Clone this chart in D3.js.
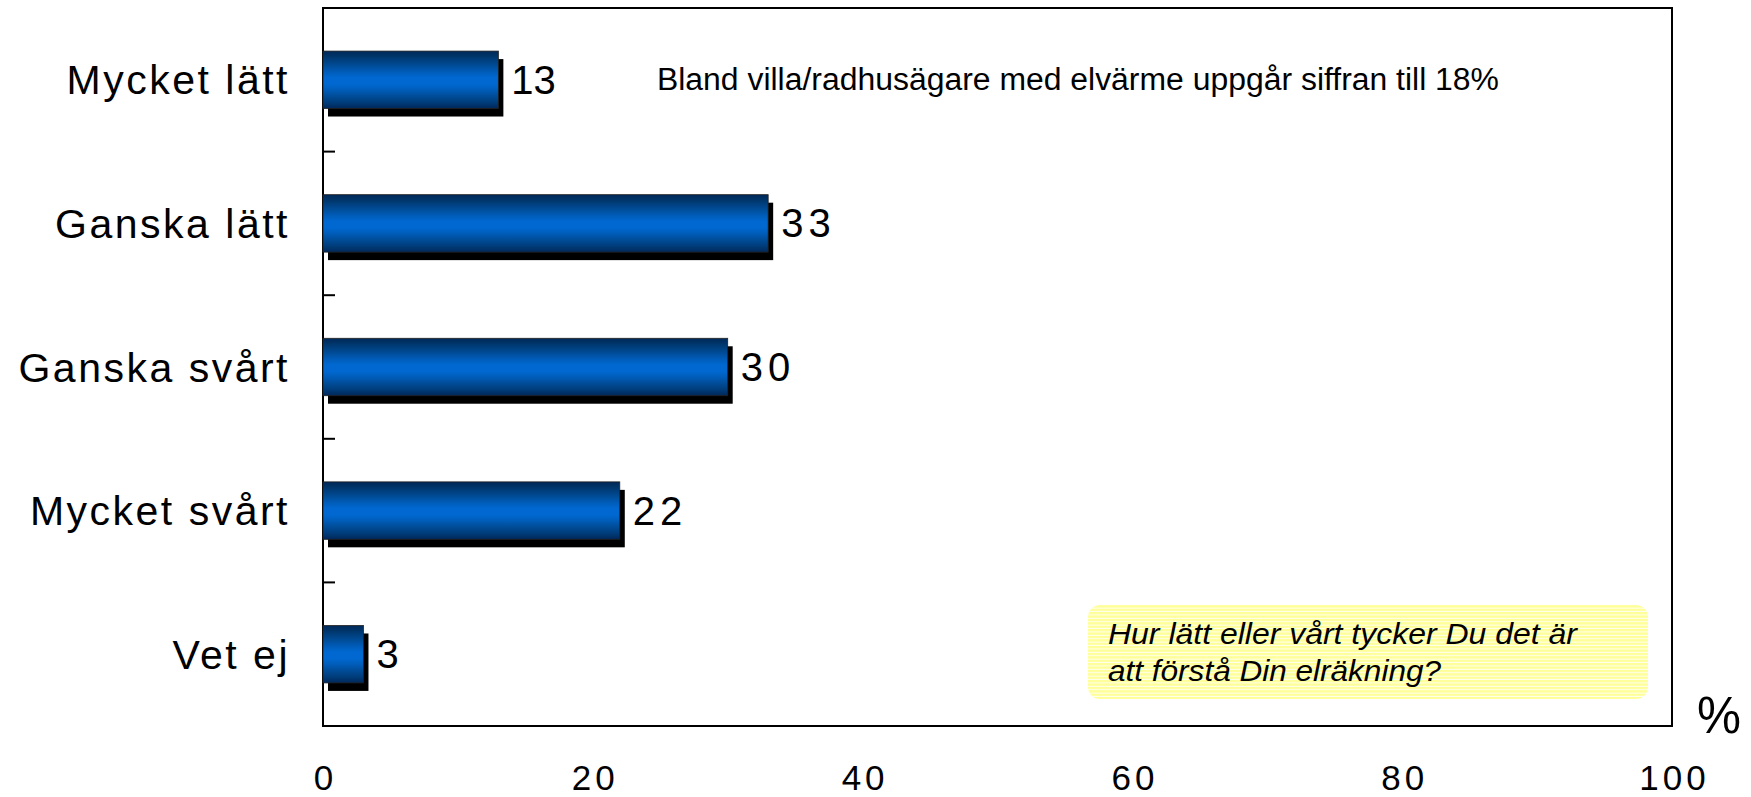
<!DOCTYPE html>
<html>
<head>
<meta charset="utf-8">
<script src="https://cdn.jsdelivr.net/npm/d3@7"></script>
<style>
  html, body { margin: 0; padding: 0; background: #fff; }
  svg { display: block; font-family: "Liberation Sans", Arial, sans-serif; }
</style>
</head>
<body>
<svg id="chart" width="1751" height="797"></svg>
<script>
const categories = ["Mycket lätt", "Ganska lätt", "Ganska svårt", "Mycket svårt", "Vet ej"];
const values = [13, 33, 30, 22, 3];
const xTicks = [0, 20, 40, 60, 80, 100];
const noteText = "Bland villa/radhusägare med elvärme uppgår siffran till 18%";
const questionLines = ["Hur lätt eller vårt tycker Du det är", "att förstå Din elräkning?"];
const unitLabel = "%";

const W = 1751, H = 797;
const plot = { left: 323, top: 8, right: 1672, bottom: 726 };

const svg = d3.select("#chart");
const defs = svg.append("defs");

// bar gradient (stepped navy -> bright blue -> navy)
const grad = defs.append("linearGradient")
  .attr("id", "barGrad").attr("x1", 0).attr("y1", 0).attr("x2", 0).attr("y2", 1);
[
  [0, "#00285a"], [0.08, "#003366"], [0.16, "#003f7e"], [0.26, "#004d99"],
  [0.36, "#005cb8"], [0.46, "#0068d0"], [0.58, "#0068d0"], [0.68, "#005cb8"],
  [0.78, "#004d99"], [0.88, "#003f7e"], [1, "#00285a"]
].forEach(([o, c]) => grad.append("stop").attr("offset", o).attr("stop-color", c));

// yellow striped pattern
const pat = defs.append("pattern")
  .attr("id", "stripes").attr("patternUnits", "userSpaceOnUse")
  .attr("width", 8).attr("height", 3.4);
pat.append("rect").attr("width", 8).attr("height", 3.4).attr("fill", "#ffff99");
pat.append("rect").attr("y", 2.4).attr("width", 8).attr("height", 1).attr("fill", "#ffffff").attr("opacity", 0.85);

const x = d3.scaleLinear().domain([0, 100]).range([plot.left, plot.right]);
const y = d3.scaleBand().domain(categories).range([plot.top, plot.bottom])
  .paddingInner(0.6).paddingOuter(0.3);
const step = y.step();

// frame
svg.append("rect")
  .attr("x", plot.left).attr("y", plot.top)
  .attr("width", plot.right - plot.left).attr("height", plot.bottom - plot.top)
  .attr("fill", "none").attr("stroke", "#000").attr("stroke-width", 2);

// y ticks at band boundaries (inside)
const tickYs = d3.range(categories.length + 1).map(i => plot.top + i * step);
svg.append("g").selectAll("line").data(tickYs).join("line")
  .attr("x1", plot.left).attr("x2", plot.left + 12)
  .attr("y1", d => d).attr("y2", d => d)
  .attr("stroke", "#000").attr("stroke-width", 2);

// question box
const qb = svg.append("g");
qb.append("rect")
  .attr("x", 1088).attr("y", 605).attr("width", 560).attr("height", 94)
  .attr("rx", 12).attr("ry", 12)
  .attr("fill", "url(#stripes)");
qb.selectAll("text").data(questionLines).join("text")
  .attr("x", 1108)
  .attr("y", (d, i) => 644 + i * 37)
  .attr("font-size", 30).attr("font-style", "italic").attr("fill", "#000")
  .attr("textLength", (d, i) => i === 0 ? 469 : 333)
  .attr("lengthAdjust", "spacingAndGlyphs")
  .text(d => d);

// shadows
const bars = svg.append("g");
bars.selectAll("rect.shadow").data(values).join("rect")
  .attr("class", "shadow")
  .attr("x", x(0) + 5)
  .attr("y", (d, i) => y(categories[i]) + 8)
  .attr("width", d => x(d) - x(0))
  .attr("height", y.bandwidth())
  .attr("fill", "#000");

// bars
bars.selectAll("rect.bar").data(values).join("rect")
  .attr("class", "bar")
  .attr("x", x(0))
  .attr("y", (d, i) => y(categories[i]))
  .attr("width", d => x(d) - x(0))
  .attr("height", y.bandwidth())
  .attr("fill", "url(#barGrad)")
  .attr("stroke", "#222").attr("stroke-width", 0.8);

// value labels
svg.append("g").selectAll("text").data(values).join("text")
  .attr("x", d => x(d) + 13)
  .attr("y", (d, i) => y(categories[i]) + y.bandwidth() / 2 + 14)
  .attr("font-size", 40).attr("fill", "#000")
  .attr("letter-spacing", d => d === 13 ? 0 : 5)
  .text(d => d);

// category labels
svg.append("g").selectAll("text").data(categories).join("text")
  .attr("x", 290)
  .attr("y", d => y(d) + y.bandwidth() / 2 + 14.5)
  .attr("text-anchor", "end")
  .attr("font-size", 41).attr("letter-spacing", 2.5).attr("fill", "#000")
  .text(d => d);

// x axis labels
const xAxis = d3.axisBottom(x).tickValues(xTicks).tickSize(0).tickPadding(0).tickFormat(d => d);
const gx = svg.append("g").attr("transform", `translate(0, ${plot.bottom})`).call(xAxis);
gx.select(".domain").remove();
gx.selectAll("text")
  .attr("y", 64).attr("dy", null)
  .attr("font-family", "Liberation Sans, Arial, sans-serif")
  .attr("font-size", 35).attr("letter-spacing", 4).attr("fill", "#000")
  .attr("dx", 2);

// note
svg.append("text")
  .attr("x", 657).attr("y", 90)
  .attr("font-size", 31).attr("fill", "#000")
  .attr("textLength", 842).attr("lengthAdjust", "spacingAndGlyphs")
  .text(noteText);

// unit
svg.append("text")
  .attr("x", 1719).attr("y", 733)
  .attr("text-anchor", "middle")
  .attr("font-size", 52).attr("fill", "#000")
  .attr("textLength", 44).attr("lengthAdjust", "spacingAndGlyphs")
  .text(unitLabel);
</script>
</body>
</html>
